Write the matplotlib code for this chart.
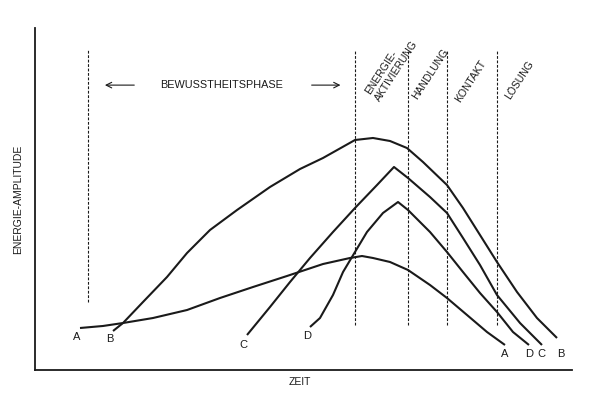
import matplotlib
matplotlib.use("Agg")
import matplotlib.pyplot as plt

plt.rcParams['font.family'] = ['Liberation Sans', 'DejaVu Sans']

# curve values: time (0-100) and energy amplitude (0-100)
a_t = [8.38, 12.66, 16.39, 21.97, 28.31, 34.45, 40.60, 46.93, 53.63, 58.66, 60.89,
       62.94, 66.11, 69.46, 73.56, 76.72, 80.45, 84.17, 87.52]
a_e = [12.28, 12.87, 13.74, 15.20, 17.54, 21.05, 24.27, 27.49, 30.99, 32.75, 33.33,
       32.75, 31.58, 29.24, 24.85, 21.05, 16.08, 11.11, 7.31]

b_t = [14.53, 16.39, 20.11, 24.58, 28.31, 32.59, 37.62, 43.76, 49.35, 53.63, 59.59,
       62.94, 66.11, 69.27, 72.25, 76.72, 79.70, 82.87, 86.03, 89.76, 93.48, 97.21]
b_e = [11.40, 13.74, 19.88, 27.19, 34.21, 40.94, 46.78, 53.51, 58.77, 61.99, 67.25,
       67.84, 66.96, 64.91, 60.82, 54.09, 47.37, 39.47, 31.58, 22.81, 15.20, 9.36]

c_t = [39.48, 43.76, 47.49, 51.21, 55.49, 59.59, 63.69, 66.85, 69.46, 73.56, 76.72,
       79.70, 82.87, 86.03, 90.32, 94.41]
c_e = [10.23, 18.42, 25.73, 32.75, 40.35, 47.37, 54.09, 59.36, 56.14, 50.58, 45.91,
       38.60, 30.70, 21.93, 13.74, 7.31]

d_t = [51.21, 53.07, 55.49, 57.36, 59.03, 61.82, 64.80, 67.60, 69.46, 73.56, 76.72,
       79.70, 82.87, 86.03, 89.01, 91.99]
d_e = [12.57, 15.20, 21.93, 28.65, 33.04, 40.35, 45.91, 49.12, 46.78, 40.35, 34.50,
       28.65, 22.51, 16.96, 11.11, 7.31]

# phase boundaries
phase_t = [9.9, 59.6, 69.5, 76.7, 86.0]
phase_bottom = [19.9, 13.2, 13.2, 13.2, 13.2]
phase_top = 93.6
phase_labels = ["ENERGIE-\nAKTIVIERUNG", "HANDLUNG", "KONTAKT", "LÖSUNG"]
phase_label_t = [63.9, 71.1, 79.1, 88.45]
phase_label_e = [78.7, 78.9, 78.1, 78.9]

curve_names = ["A", "B", "C", "D"]
start_t = [7.8, 14.0, 38.9, 50.7]
start_e = [9.6, 9.1, 7.3, 9.9]
end_t = [87.5, 98.0, 94.4, 92.0]
end_e = [4.7, 4.7, 4.7, 4.7]

ink = '#1a1a1a'

fig = plt.figure(figsize=(5.94, 3.98), dpi=100)
ax = fig.add_axes([35 / 594, 28 / 398, 537 / 594, 342 / 398])
ax.set_xlim(0, 100)
ax.set_ylim(0, 100)
for s in ['top', 'right']:
    ax.spines[s].set_visible(False)
for s in ['left', 'bottom']:
    ax.spines[s].set_linewidth(1.3)
    ax.spines[s].set_color(ink)
ax.set_xticks([])
ax.set_yticks([])

for t, e in [(a_t, a_e), (b_t, b_e), (c_t, c_e), (d_t, d_e)]:
    ax.plot(t, e, color=ink, lw=1.5, solid_capstyle='butt', solid_joinstyle='round')

for t, lo in zip(phase_t, phase_bottom):
    ax.plot([t, t], [lo, phase_top], color=ink, lw=0.8, ls=(0, (2.5, 1.5)))

for lab, t, e in zip(phase_labels, phase_label_t, phase_label_e):
    ax.text(t, e, lab, rotation=57, rotation_mode='anchor', ha='left', va='baseline',
            fontsize=7.5, color=ink, linespacing=1.2, multialignment='left')

ax.text(34.8, 83.3, "BEWUSSTHEITSPHASE", ha='center', va='center', fontsize=7.8, color=ink)
ax.annotate("", xy=(12.5, 83.3), xytext=(19.0, 83.3),
            arrowprops=dict(arrowstyle='->', color=ink, lw=0.8))
ax.annotate("", xy=(57.4, 83.3), xytext=(51.0, 83.3),
            arrowprops=dict(arrowstyle='->', color=ink, lw=0.8))

for n, t, e in zip(curve_names, start_t, start_e):
    ax.text(t, e, n, ha='center', va='center', fontsize=8, color=ink)
for n, t, e in zip(curve_names, end_t, end_e):
    ax.text(t, e, n, ha='center', va='center', fontsize=8, color=ink)

ax.set_xlabel("ZEIT", fontsize=7.5, color=ink)
ax.xaxis.set_label_coords(49.3 / 100, -0.02)
ax.set_ylabel("ENERGIE-AMPLITUDE", fontsize=7.5, color=ink)
ax.yaxis.set_label_coords(-0.022, 0.5)

fig.savefig("out.png", dpi=100, facecolor='white')
